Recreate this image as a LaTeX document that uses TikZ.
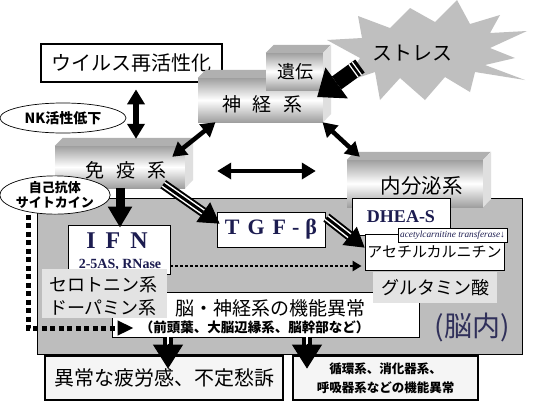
\documentclass[tikz,border=0pt]{standalone}
\usepackage{fontspec}
\setmainfont{Liberation Serif}
\newfontfamily\jp{Noto Sans CJK JP}
\usetikzlibrary{arrows.meta,calc,shapes.geometric}
\definecolor{navy}{RGB}{28,28,80}
\begin{document}
\begin{tikzpicture}[x=1pt,y=-1pt,font=\jp,
  plain/.style={draw=black, fill=white, line width=0.8pt, inner sep=0pt, align=center},
  heavy/.style={draw=black, fill=white, line width=2.8pt, inner sep=0pt, align=center},
  bar/.style={inner sep=0pt, top color=gray!75, bottom color=gray!75, middle color=white},
  topface/.style={fill=gray!62},
  sideface/.style={fill=gray!25},
  panel/.style={fill=gray!22, inner sep=0pt},
  oval/.style={ellipse, draw=black, fill=white, line width=0.7pt, inner sep=0pt, align=center},
  dblarrow/.style={line width=4.5pt, {Triangle[length=14pt,width=16pt]}-{Triangle[length=14pt,width=16pt]}},
  fz/.style={font=\jp\fontsize{#1}{#1}\selectfont},
  fzb/.style={font=\jp\bfseries\fontsize{#1}{#1}\selectfont},
  lat/.style={font=\rmfamily\bfseries\fontsize{#1}{#1}\selectfont, text=navy}
]
\fill[white] (0,0) rectangle (541,405);
\useasboundingbox (0,0) rectangle (541,405);

% starburst
\fill[gray!50] (327,40) -- (362,38) -- (358,16) -- (390,28) -- (410,8) -- (435,22) -- (457,0) -- (470,24) -- (500,15) -- (490,33) -- (527,31) -- (490,48) -- (515,58) -- (485,65) -- (525,80) -- (475,72) -- (470,92) -- (445,77) -- (425,100) -- (400,78) -- (380,100) -- (375,72) -- (345,82) -- (360,58) -- cycle;
\node[fz=20] (stress) at (412,53) {ストレス};

% top-left box and NK oval
\node[heavy, minimum width=181pt, minimum height=38pt, fz=20] (virus) at (131.5,63) {ウイルス再活性化};
\node[oval, minimum width=126pt, minimum height=30pt, fzb=14] (nk) at (63,118) {NK活性低下};

% brain region
\node[draw=black, fill=gray!52, line width=0.6pt, minimum width=485pt, minimum height=156pt, inner sep=0pt] (region) at (279.5,276) {};

% 3D bars
\node[bar, minimum width=125pt, minimum height=44pt] (shin) at (260.5,100) {};
\fill[topface] (shin.north west) -- ++(8,-8) -- ++(125,0) -- (shin.north east) -- cycle;
\fill[sideface] (shin.north east) -- ++(8,-8) -- ++(0,44) -- (shin.south east) -- cycle;
\node[bar, minimum width=57pt, minimum height=37pt] (iden) at (294.5,71.5) {};
\fill[topface] (iden.north west) -- ++(8,-8) -- ++(57,0) -- (iden.north east) -- cycle;
\fill[sideface] (iden.north east) -- ++(8,-8) -- ++(0,37) -- (iden.south east) -- cycle;
\node[fz=18] (identxt) at (295,72) {遺伝};
\node[fz=19] (shintxt) at (262.5,104) {神\hspace{12pt}経\hspace{12pt}系};

\node[bar, minimum width=130pt, minimum height=42pt] (men) at (120,167) {};
\fill[topface] (men.north west) -- ++(8,-8) -- ++(130,0) -- (men.north east) -- cycle;
\fill[sideface] (men.north east) -- ++(8,-8) -- ++(0,42) -- (men.south east) -- cycle;
\node[fz=19] (mentxt) at (126,170) {免\hspace{12pt}疫\hspace{12pt}系};

\node[bar, minimum width=136pt, minimum height=47pt] (naibun) at (415,183.5) {};
\fill[topface] (naibun.north west) -- ++(8,-8) -- ++(136,0) -- (naibun.north east) -- cycle;
\fill[sideface] (naibun.north east) -- ++(8,-8) -- ++(0,47) -- (naibun.south east) -- cycle;
\node[fz=20.5] (naibuntxt) at (421.5,186) {内分泌系};

% boxes in the region
\node[plain, minimum width=108pt, minimum height=35pt, lat=22] (tgf) at (271,229.5) {T\hspace{8pt}G\hspace{8pt}F\hspace{6pt}-\hspace{6pt}β};
\node[plain, minimum width=102pt, minimum height=49pt] (ifn) at (119,249.5) {};
\node[lat=24] (ifntxt) at (117,241) {I\hspace{10pt}F\hspace{10pt}N};
\node[lat=14] (ifnsub) at (120,265) {2-5AS, RNase};
\node[plain, minimum width=98pt, minimum height=37pt, lat=18] (dhea) at (401,216.5) {DHEA-S};
\node[plain, minimum width=139pt, minimum height=36pt, fz=15] (acet) at (434.5,252) {アセチルカルニチン};
\node[plain, line width=0.6pt, minimum width=109pt, minimum height=14pt, font=\rmfamily\itshape\fontsize{9.3}{9.3}\selectfont, text=navy] (trans) at (452.5,235) {acetylcarnitine transferase↓};

\node[plain, minimum width=307pt, minimum height=45pt] (brain) at (265.5,314.5) {};
\node[fz=19] (braintxt) at (270,308) {脳・神経系の機能異常};
\node[fzb=13.5] (brainsub) at (254.5,327) {（前頭葉、大脳辺縁系、脳幹部など）};
\node[panel, minimum width=125pt, minimum height=49pt] (sero) at (104.5,293.5) {};
\node[fz=18] (serotxt) at (103,285) {セロトニン系};
\node[fz=18] (dopatxt) at (103,308) {ドーパミン系};
\node[panel, minimum width=124pt, minimum height=31pt, fz=18] (glut) at (435,287.5) {グルタミン酸};
\node[font=\jp\fontsize{28}{28}\selectfont, text=navy!80!gray] (nounai) at (472,327) {(脳内)};

% bottom boxes
\node[heavy, fill=gray!8, minimum width=238pt, minimum height=44pt, fz=20] (bot1) at (164,378) {異常な疲労感、不定愁訴};
\node[heavy, fill=gray!8, minimum width=185pt, minimum height=44pt, font=\jp\bfseries\fontsize{12.5}{19}\selectfont] (bot2) at (385.5,378) {循環系、消化器系、\\呼吸器系などの機能異常};

% arrows between systems
\draw[line width=6pt, {Triangle[length=15pt,width=17pt]}-{Triangle[length=15pt,width=17pt]}] ([xshift=4.5pt,yshift=-6pt]virus.south) -- ([xshift=16pt,yshift=7pt]men.north);
\draw[dblarrow] ([xshift=-45pt]shin.south) -- ([xshift=-13pt,yshift=-11pt]men.north east);
\draw[dblarrow] ([xshift=62pt]shin.south) -- ([xshift=13pt,yshift=3pt]naibun.north west);
\draw[dblarrow] ([xshift=32pt,yshift=-4pt]men.east) -- ([xshift=-31pt,yshift=12.5pt]naibun.west);
\draw[line width=9pt, -{Triangle[length=21pt,width=23pt]}] (men.south) -- ([yshift=-3pt]men.south |- ifn.north);

% striped arrows
\coordinate (s1) at ([xshift=-22pt,yshift=4pt]men.south east);
\coordinate (e1) at ([xshift=3pt,yshift=-12pt]tgf.north west);
\coordinate (m1) at ($(e1)!20pt!(s1)$);
\draw[line width=10pt] (s1) -- (m1);
\draw[white, line width=6pt] (s1) -- (m1);
\draw[line width=3pt] (s1) -- (m1);
\draw[line width=1pt, -{Triangle[length=20pt,width=24pt]}] ($(m1)!2pt!(s1)$) -- (e1);

\coordinate (s2) at ([xshift=1pt,yshift=-6pt]tgf.north east);
\coordinate (e2) at ([yshift=-14pt]acet.north west);
\coordinate (m2) at ($(e2)!19pt!(s2)$);
\draw[line width=10pt] (s2) -- (m2);
\draw[white, line width=6pt] (s2) -- (m2);
\draw[line width=3pt] (s2) -- (m2);
\draw[line width=1pt, -{Triangle[length=19pt,width=23pt]}] ($(m2)!2pt!(s2)$) -- (e2);

% stress arrow
\coordinate (st) at ([xshift=-52pt,yshift=-13pt]stress.center);
\coordinate (sh) at ([xshift=-6pt,yshift=3pt]shin.east);
\coordinate (sm) at ($(sh)!24pt!(st)$);
\draw[line width=16pt] (st) -- (sm);
\draw[line width=1pt, -{Triangle[length=24pt,width=38pt]}] ($(sm)!2pt!(st)$) -- (sh);
\coordinate (q1) at ($(st)!4pt!(sh)$);
\coordinate (q2) at ($(st)!8pt!(sh)$);
\draw[white, line width=1.2pt] ($(q1)!8pt!90:(sh)$) -- ($(q1)!8pt!-90:(sh)$);
\draw[white, line width=1.2pt] ($(q2)!8pt!90:(sh)$) -- ($(q2)!8pt!-90:(sh)$);

% dotted arrows
\draw[line width=2.5pt, dash pattern=on 3pt off 2pt, -{Triangle[length=9pt,width=10pt]}] ([yshift=-16.5pt]ifn.east) -- ([xshift=-3pt,yshift=-14pt]acet.west);

\node[oval, minimum width=106pt, minimum height=38pt, font=\jp\bfseries\fontsize{13}{15}\selectfont] (jiko) at (55,195) {自己抗体\\サイトカイン};
\draw[line width=5pt, dash pattern=on 5pt off 3.5pt, -{Triangle[length=16pt,width=14pt]}] ([xshift=-27pt]jiko.south) |- ([xshift=22pt,yshift=-13.5pt]brain.west);

% down arrows
\coordinate (d1s) at ([xshift=-97.5pt]brain.south);
\coordinate (d1e) at ([xshift=4pt,yshift=-14pt]bot1.north);
\coordinate (d1m) at ($(d1e)!24pt!(d1s)$);
\draw[line width=10pt] (d1s) -- (d1m);
\draw[white, line width=1.5pt] (d1s) -- (d1m);
\draw[line width=1pt, -{Triangle[length=24pt,width=30pt]}] ($(d1m)!1pt!(d1s)$) -- (d1e);

\coordinate (d2s) at ([xshift=41.5pt]brain.south);
\coordinate (d2e) at ([xshift=-78.5pt,yshift=-14pt]bot2.north);
\coordinate (d2m) at ($(d2e)!24pt!(d2s)$);
\draw[line width=10pt] (d2s) -- (d2m);
\draw[white, line width=1.5pt] (d2s) -- (d2m);
\draw[line width=1pt, -{Triangle[length=24pt,width=30pt]}] ($(d2m)!1pt!(d2s)$) -- (d2e);
\end{tikzpicture}
\end{document}
